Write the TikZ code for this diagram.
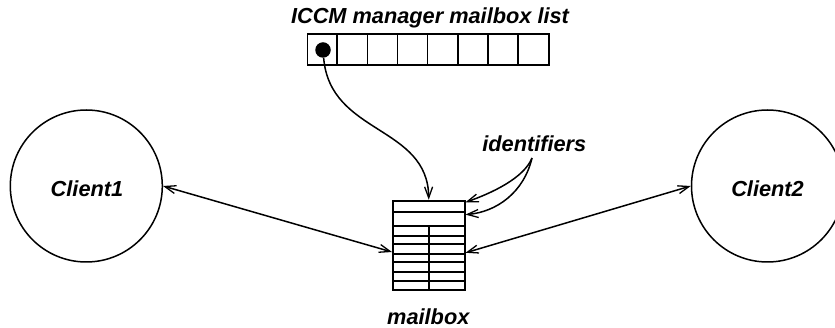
\documentclass[tikz,border=0pt]{standalone}
\usepackage{fontspec}
\setmainfont{Liberation Sans}
\usetikzlibrary{arrows.meta,calc}
\begin{document}
\begin{tikzpicture}[x=1pt,y=-1pt,
  lbl/.style={font=\fontsize{21.75}{26}\selectfont\bfseries\itshape, inner sep=0pt, anchor=base},
  cli/.style={draw, circle, line width=1.5pt, minimum size=152pt, inner sep=0pt},
  box/.style={draw, rectangle, inner sep=0pt},
  barb/.tip={Straight Barb[length=11pt,width=8pt,line width=1.3pt]},
  conn/.style={line width=1.5pt, -barb},
  both/.style={line width=1.5pt, barb-barb}
]
\useasboundingbox (0,0) rectangle (835,328);

% mailbox list
\node[box, line width=1.5pt, minimum width=241.3pt, minimum height=31pt] (lst) at (428.35,49.5) {};
\foreach \k in {1,...,7} {
  \draw[line width=1.5pt] ($(lst.north west)+(\k*30.16,0)$) -- ($(lst.south west)+(\k*30.16,0)$);
}
\node[circle, fill=black, inner sep=0pt, minimum size=15.5pt] (dot) at (323,50) {};
\node[lbl] (title) at (430,23.5) {ICCM manager mailbox list};

% mailbox
\node[box, line width=2pt, minimum width=71.5pt, minimum height=89.8pt] (mb) at (428.75,245.6) {};
\foreach \yy in {212.3,226,236,244,254,262.5,272.5,281} {
  \draw[line width=2pt] (mb.west |- 0,\yy) -- (mb.east |- 0,\yy);
}
\coordinate (mbdiv) at (429,226);
\draw[line width=2pt] (mbdiv) -- (mbdiv |- mb.south);
\node[lbl] (mblbl) at (428.3,325) {mailbox};

% clients
\node[cli] (c1) at (86.3,186) {};
\node[lbl] (c1lbl) at (87,196.7) {Client1};
\node[cli] (c2) at (767.5,186) {};
\node[lbl] (c2lbl) at (767.5,196.7) {Client2};

% identifiers
\node[lbl] (ids) at (534.3,151.7) {identifiers};
\coordinate (idsrc) at (532,158);
\coordinate (mbI1) at ($(mb.north east)+(0,2.6)$);
\coordinate (mbI2) at ($(mb.north east)+(0,14.9)$);
\coordinate (mbL) at ($(mb.west)+(0,6.4)$);
\coordinate (mbR) at ($(mb.east)+(0,7.2)$);

% connectors
\draw[conn] (dot) .. controls (330,135) and (428,125) .. (mb.north);
\draw[conn] (idsrc) .. controls (524,178) and (492,193) .. (mbI1);
\draw[conn] (idsrc) .. controls (524,192) and (497,212) .. (mbI2);
\draw[both] (c1.east) -- (mbL);
\draw[both] (mbR) -- (c2.west);
\end{tikzpicture}
\end{document}
